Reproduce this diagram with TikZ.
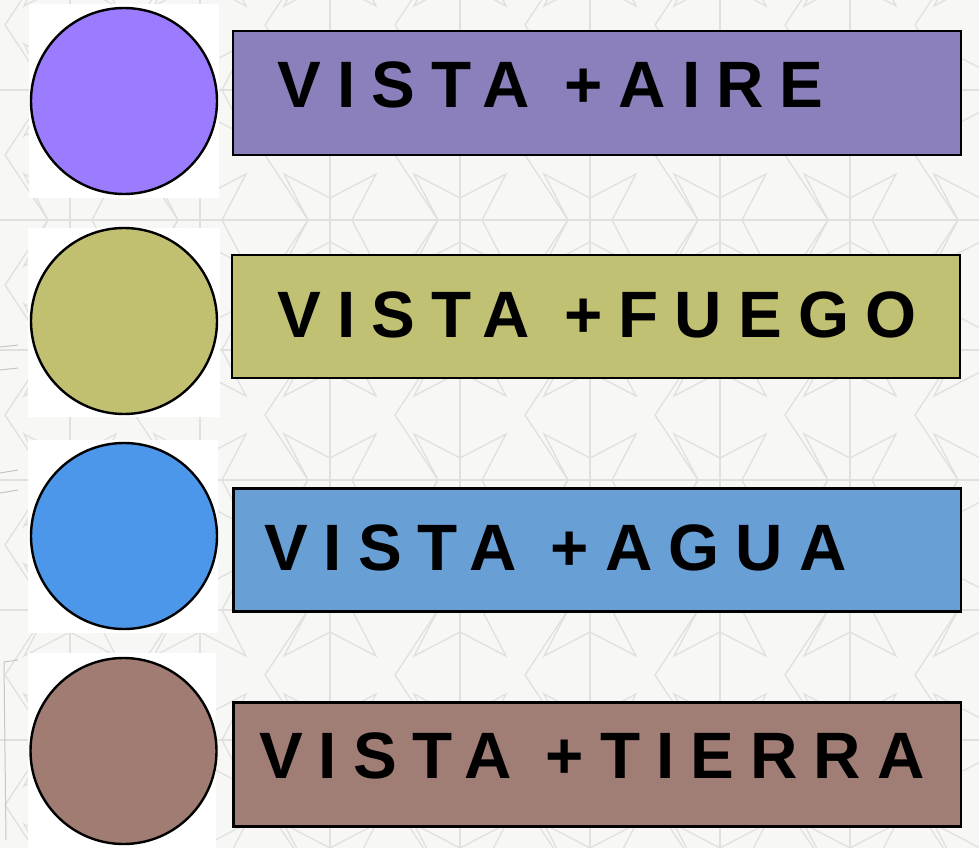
\documentclass[tikz,border=0pt]{standalone}
\usepackage{fontspec}
\setmainfont{Liberation Sans}
\newfontfamily\lblfont[LetterSpace=24.5]{Liberation Sans}
\definecolor{bgc}{HTML}{F7F7F5}
\definecolor{patc}{HTML}{E0E0DE}
\definecolor{cAire}{HTML}{9B7BFE}
\definecolor{bAire}{HTML}{8C80BC}
\definecolor{cFuego}{HTML}{C1C070}
\definecolor{bFuego}{HTML}{C1C174}
\definecolor{cAgua}{HTML}{4C97EA}
\definecolor{bAgua}{HTML}{689FD5}
\definecolor{cTierra}{HTML}{A07C72}
\definecolor{bTierra}{HTML}{A07E76}
\tikzset{
  dot/.style={circle, draw=black, line width=2.4bp, minimum size=186bp, inner sep=0pt, outer sep=0pt},
  bar/.style={draw=black, line width=2.2bp},
  lbl/.style={anchor=base west, inner sep=0pt, outer sep=0pt, font=\lblfont\bfseries\fontsize{65.6bp}{70bp}\selectfont},
  pat/.style={draw=patc, line width=1.3bp}
}
\begin{document}
\begin{tikzpicture}[x=1bp,y=-1bp]
\useasboundingbox (0,0) rectangle (979,848);
\fill[bgc] (0,0) rectangle (979,848);
% faint geometric background pattern
\begin{scope}
\clip (0,0) rectangle (979,848);
\foreach \cx in {-60,70,...,1100}{
  \foreach \cy in {-40,90,...,900}{
    \draw[pat] (\cx-65,\cy) -- (\cx+65,\cy);
    \draw[pat] (\cx,\cy-65) -- (\cx,\cy+65);
    \draw[pat] (\cx-46,\cy-46) -- (\cx,\cy-22) -- (\cx+46,\cy-46) -- (\cx+22,\cy) -- (\cx+46,\cy+46) -- (\cx,\cy+22) -- (\cx-46,\cy+46) -- (\cx-22,\cy) -- cycle;
    \draw[pat] (\cx-65,\cy-65) -- (\cx-22,\cy) -- (\cx-65,\cy+65);
  }
}
\end{scope}
% left-edge marks
\draw[gray!45, line width=1bp] (18,345) -- (0,347) (18,368) -- (0,370) (18,470) -- (0,473) (18,490) -- (0,493) (18,660) -- (4,662) -- (6,840);
% white squares behind the circles
\fill[white] (29,4) rectangle (219,198);
\fill[white] (28,228) rectangle (220,417);
\fill[white] (28,440) rectangle (218,633);
\fill[white] (28,653) rectangle (216,848);
% circles
\node[dot, fill=cAire]   (c1) at (124,101) {};
\node[dot, fill=cFuego]  (c2) at (124,321) {};
\node[dot, fill=cAgua]   (c3) at (124,536) {};
\node[dot, fill=cTierra] (c4) at (123.5,751) {};
% bars
\draw[bar, fill=bAire]   (233,31)  rectangle (961,155);
\draw[bar, fill=bFuego]  (232,255) rectangle (960,378);
\draw[bar, fill=bAgua]   (233.5,488.5) rectangle (961,611.5);
\draw[bar, fill=bTierra] (233.5,702.5) rectangle (961,826.5);
% labels
\node[lbl] (t1) at (277.5,107)   {VISTA +AIRE};
\node[lbl] (t2) at (277.5,337.7) {VISTA +FUEGO};
\node[lbl] (t3) at (264,570)     {VISTA +AGUA};
\node[lbl] (t4) at (259,778.3)   {VISTA +TIERRA};
\end{tikzpicture}
\end{document}
